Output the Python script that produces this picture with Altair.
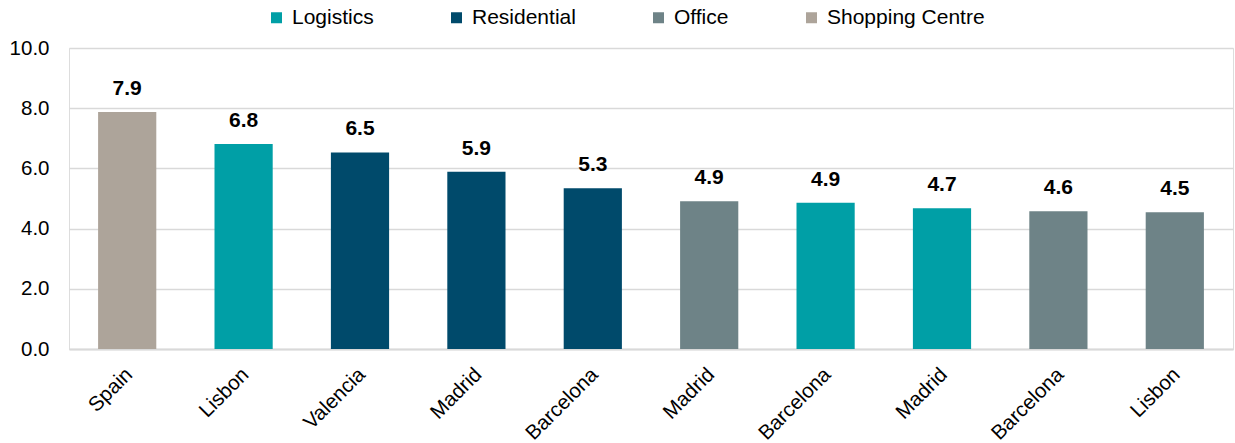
import altair as alt
import pandas as pd
import json

cities = ["Spain", "Lisbon", "Valencia", "Madrid", "Barcelona",
          "Madrid", "Barcelona", "Madrid", "Barcelona", "Lisbon"]
sectors = ["Shopping Centre", "Logistics", "Residential", "Residential", "Residential",
           "Office", "Logistics", "Logistics", "Office", "Office"]
values = [7.87, 6.81, 6.53, 5.89, 5.34, 4.91, 4.86, 4.68, 4.58, 4.54]

sector_order = ["Logistics", "Residential", "Office", "Shopping Centre"]
sector_colors = ["#009FA6", "#004A6B", "#6E8387", "#ADA49A"]

df = pd.DataFrame({
    "idx": list(range(len(cities))),
    "city": cities,
    "sector": sectors,
    "value": values,
})

label_expr = json.dumps(cities) + "[datum.value]"
FONT = "Liberation Sans"

base = alt.Chart(df).encode(
    x=alt.X("idx:O", title=None,
            scale=alt.Scale(paddingInner=0.5, paddingOuter=0.25),
            axis=alt.Axis(labelExpr=label_expr, labelAngle=-45, labelFontSize=20.5,
                          labelFont=FONT, labelColor="#000000", ticks=False,
                          domainColor="#D9D9D9", domainWidth=2, labelPadding=15,
                          labelOffset=-5)),
    y=alt.Y("value:Q", title=None,
            scale=alt.Scale(domain=[0, 10]),
            axis=alt.Axis(values=[0, 2, 4, 6, 8, 10], format=".1f", labelFontSize=20.5,
                          labelFont=FONT, labelColor="#000000", ticks=False, domain=False,
                          gridColor="#D9D9D9", gridWidth=1.6, labelPadding=20)),
)

bars = base.mark_bar().encode(
    color=alt.Color("sector:N", title=None,
                    scale=alt.Scale(domain=sector_order, range=sector_colors),
                    legend=alt.Legend(orient="none", direction="horizontal",
                                      legendX=197, legendY=-41,
                                      symbolType="square", symbolSize=121,
                                      symbolStrokeWidth=0, labelFontSize=21,
                                      labelFont=FONT, labelColor="#000000",
                                      columnPadding=72, labelOffset=5))
)

labels = base.mark_text(baseline="alphabetic", dy=-17, fontSize=21,
                        fontWeight="bold", font=FONT, color="#000000").encode(
    text=alt.Text("value:Q", format=".1f")
)

chart = (bars + labels).properties(
    width=1164, height=301,
    padding={"left": 9, "top": 7, "right": 2, "bottom": 0},
    autosize=alt.AutoSizeParams(type="pad"),
).configure_view(stroke=None).configure(background="white")

chart.save("out.html", embed_options={"renderer": "svg", "actions": False})
